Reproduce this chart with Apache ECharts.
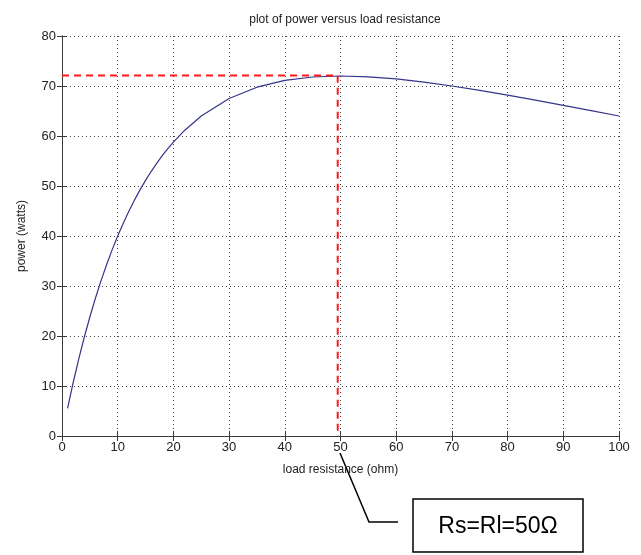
<!DOCTYPE html>
<html>
<head>
<meta charset="utf-8">
<script src="https://cdn.jsdelivr.net/npm/echarts@6/dist/echarts.min.js"></script>
<style>html,body{margin:0;padding:0;background:#fff;}#c{width:641px;height:555px;}</style>
</head>
<body>
<div id="c"></div>
<script>
// load resistance (ohm)
const resistance = [1, 2, 3, 4, 5, 6, 7, 8, 9, 10, 11, 12, 13, 14, 15, 16, 17, 18, 19, 20, 22, 25, 30, 35, 40, 45, 50, 55, 60, 65, 70, 75, 80, 85, 90, 95, 100];
// power (watts)
const power = [5.54, 10.65, 15.38, 19.75, 23.80, 27.55, 31.03, 34.25, 37.23, 40.0, 42.57, 44.95, 47.17, 49.22, 51.12, 52.89, 54.53, 56.06, 57.47, 58.78, 61.11, 64.0, 67.5, 69.76, 71.11, 71.80, 72.0, 71.84, 71.41, 70.78, 70.0, 69.12, 68.17, 67.16, 66.12, 65.07, 64.0];
// red dashed marker of maximum power
const markerX = [0, 49.5, 49.5];
const markerY = [72.1, 72.1, 0];
const xTicks = [0, 10, 20, 30, 40, 50, 60, 70, 80, 90, 100];
const yTicks = [0, 10, 20, 30, 40, 50, 60, 70, 80];
const annotationText = 'Rs=Rl=50\u03A9';

const curve = resistance.map((r, i) => [r, power[i]]);
const marker = markerX.map((x, i) => [x, markerY[i]]);

const font = 'Liberation Sans, Arial, sans-serif';
const axisCol = '#3a3a3a';
const labelCol = '#222';

const chart = echarts.init(document.getElementById('c'));
chart.setOption({
  animation: false,
  backgroundColor: '#fff',
  title: {
    text: 'plot of power versus load resistance',
    left: 340, top: 9, textAlign: 'center',
    textStyle: { fontFamily: font, fontSize: 12, fontWeight: 'normal', color: labelCol }
  },
  grid: { left: 62, right: 22, top: 36, bottom: 119 },
  xAxis: [{
    type: 'value', min: xTicks[0], max: xTicks[xTicks.length - 1], interval: 10,
    position: 'bottom',
    name: 'load resistance (ohm)', nameLocation: 'middle', nameGap: 28,
    nameTextStyle: { fontFamily: font, fontSize: 12, color: labelCol },
    axisLine: { show: true, lineStyle: { color: axisCol, width: 1 } },
    axisTick: { show: true, inside: true, length: 5, lineStyle: { color: axisCol } },
    axisLabel: { fontFamily: font, fontSize: 13, color: labelCol, margin: 5 },
    splitLine: { show: true, lineStyle: { color: '#444', type: [1, 3], width: 1 } }
  }, {
    type: 'value', min: xTicks[0], max: xTicks[xTicks.length - 1], interval: 10,
    position: 'top',
    axisLine: { show: true, lineStyle: { color: axisCol, width: 1 } },
    axisTick: { show: true, inside: true, length: 5, lineStyle: { color: axisCol } },
    axisLabel: { show: false },
    splitLine: { show: false }
  }],
  yAxis: [{
    type: 'value', min: yTicks[0], max: yTicks[yTicks.length - 1], interval: 10,
    position: 'left',
    name: 'power (watts)', nameLocation: 'middle', nameGap: 34,
    nameTextStyle: { fontFamily: font, fontSize: 12, color: labelCol },
    axisLine: { show: true, lineStyle: { color: axisCol, width: 1 } },
    axisTick: { show: true, inside: true, length: 5, lineStyle: { color: axisCol } },
    axisLabel: { fontFamily: font, fontSize: 13, color: labelCol, margin: 6 },
    splitLine: { show: true, lineStyle: { color: '#444', type: [1, 3], width: 1 } }
  }, {
    type: 'value', min: yTicks[0], max: yTicks[yTicks.length - 1], interval: 10,
    position: 'right',
    axisLine: { show: true, lineStyle: { color: axisCol, width: 1 } },
    axisTick: { show: true, inside: true, length: 5, lineStyle: { color: axisCol } },
    axisLabel: { show: false },
    splitLine: { show: false }
  }],
  series: [{
    type: 'line', xAxisIndex: 0, yAxisIndex: 0,
    data: curve, showSymbol: false, symbol: 'none', smooth: false,
    lineStyle: { color: '#34348c', width: 1.2 }
  }, {
    type: 'line', xAxisIndex: 0, yAxisIndex: 0,
    data: marker, showSymbol: false, symbol: 'none',
    lineStyle: { color: '#ff1a1a', width: 2, type: [7, 5] },
    z: 3
  }],
  graphic: [{
    type: 'polyline',
    shape: { points: [[340, 453], [369, 522], [398, 522]] },
    style: { stroke: '#000', lineWidth: 1.5, fill: null }
  }, {
    type: 'rect',
    shape: { x: 413, y: 499, width: 170, height: 53 },
    style: { stroke: '#000', lineWidth: 1.5, fill: '#fff' }
  }, {
    type: 'text',
    x: 498, y: 527,
    style: {
      text: annotationText, fontFamily: font, fontSize: 23,
      fill: '#000', align: 'center', verticalAlign: 'middle'
    }
  }]
});
</script>
</body>
</html>
